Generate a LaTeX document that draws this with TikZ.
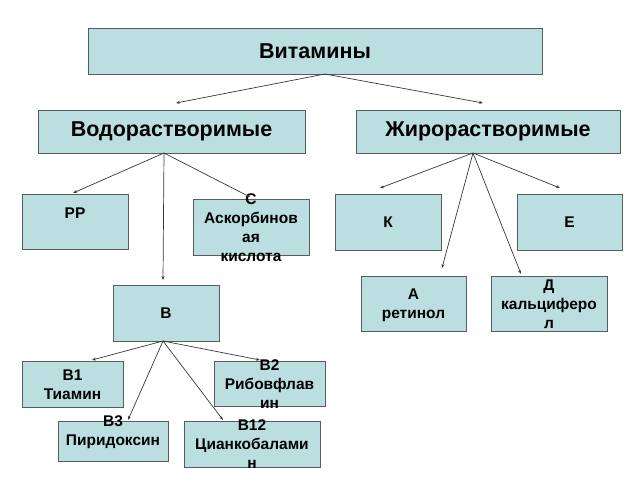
\documentclass[tikz,border=0pt]{standalone}
\usepackage{fontspec}
\setmainfont{Liberation Sans}
\usetikzlibrary{arrows.meta}
\definecolor{boxfill}{RGB}{187,223,224}
\definecolor{boxline}{RGB}{85,95,95}
\definecolor{arr}{RGB}{55,55,55}
\tikzset{
  box/.style={draw=boxline, fill=boxfill, line width=1pt, inner sep=0pt},
  big/.style={font=\fontsize{21.5}{25}\selectfont\bfseries, inner sep=0pt},
  small/.style={font=\fontsize{15.5}{19}\selectfont\bfseries, align=center, inner sep=0pt},
  conn/.style={draw=arr, line width=0.7pt, -{Stealth[length=4pt,width=3pt]}}
}
\begin{document}
\begin{tikzpicture}[x=1pt,y=-1pt]
\useasboundingbox (0,0) rectangle (640,480);
% boxes
\node[box, minimum width=454, minimum height=46] (vit) at (315,51) {};
\node[box, minimum width=267, minimum height=43] (vod) at (171.5,131.5) {};
\node[box, minimum width=264, minimum height=43] (zhir) at (488,131.5) {};
\node[box, minimum width=106, minimum height=55] (pp) at (75,221.5) {};
\node[box, minimum width=116, minimum height=56] (c) at (251,227) {};
\node[box, minimum width=106, minimum height=56] (b) at (166,313) {};
\node[box, minimum width=101, minimum height=46] (b1) at (72.5,384) {};
\node[box, minimum width=111, minimum height=45] (b2) at (269.5,383.5) {};
\node[box, minimum width=110, minimum height=40] (b3) at (113,441) {};
\node[box, minimum width=136, minimum height=46] (b12) at (252,444) {};
\node[box, minimum width=106, minimum height=56] (k) at (388,222) {};
\node[box, minimum width=105, minimum height=56] (e) at (569.5,222) {};
\node[box, minimum width=105, minimum height=55] (a) at (413.5,303.5) {};
\node[box, minimum width=116, minimum height=55] (d) at (549,303.5) {};
% texts
\node[big] (tvit) at (315,51) {Витамины};
\node[big] (tvod) at (171.5,131.5) {Водорастворимые};
\node[big] (tzhir) at (488,131.5) {Жирорастворимые};
\node[small] (tpp) at (75,213) {РР};
\node[small] (tc) at (251,228) {С\\Аскорбинов\\ая\\кислота};
\node[small] (tb) at (166,313) {В};
\node[small] (tb1) at (72.5,384.5) {В1\\Тиамин};
\node[small] (tb2) at (269.5,384) {В2\\Рибовфлав\\ин};
\node[small] (tb3) at (113,432.5) {В3\\Пиридоксин};
\node[small] (tb12) at (252,444) {В12\\Цианкобалами\\н};
\node[small] (tk) at (388,222) {К};
\node[small] (te) at (569.5,222) {Е};
\node[small] (ta) at (413.5,305) {А\\ретинол};
\node[small] (td) at (549,304) {Д\\кальциферо\\л};
% connector points
\coordinate (svit) at (325,74);
\coordinate (evod) at (176,103);
\coordinate (ezhir) at (483,103);
\coordinate (svod) at (164,153);
\coordinate (epp) at (73,193);
\coordinate (eb) at (163,280);
\coordinate (ec) at (250,197);
\coordinate (szhir) at (473,153);
\coordinate (ek) at (380,188);
\coordinate (ea) at (442,268);
\coordinate (ed) at (521,274);
\coordinate (ee) at (560,188);
\coordinate (sb) at (163,341);
\coordinate (eb1) at (92,360);
\coordinate (eb2) at (260,360);
\coordinate (eb3) at (128,420);
\coordinate (eb12) at (223,420);
\draw[conn] (svit) -- (evod);
\draw[conn] (svit) -- (ezhir);
\draw[conn] (svod) -- (epp);
\draw[conn] (svod) -- (eb);
\draw[conn] (svod) -- (ec);
\draw[conn] (szhir) -- (ek);
\draw[conn] (szhir) -- (ea);
\draw[conn] (szhir) -- (ed);
\draw[conn] (szhir) -- (ee);
\draw[conn] (sb) -- (eb1);
\draw[conn] (sb) -- (eb2);
\draw[conn] (sb) -- (eb3);
\draw[conn] (sb) -- (eb12);
\end{tikzpicture}
\end{document}
